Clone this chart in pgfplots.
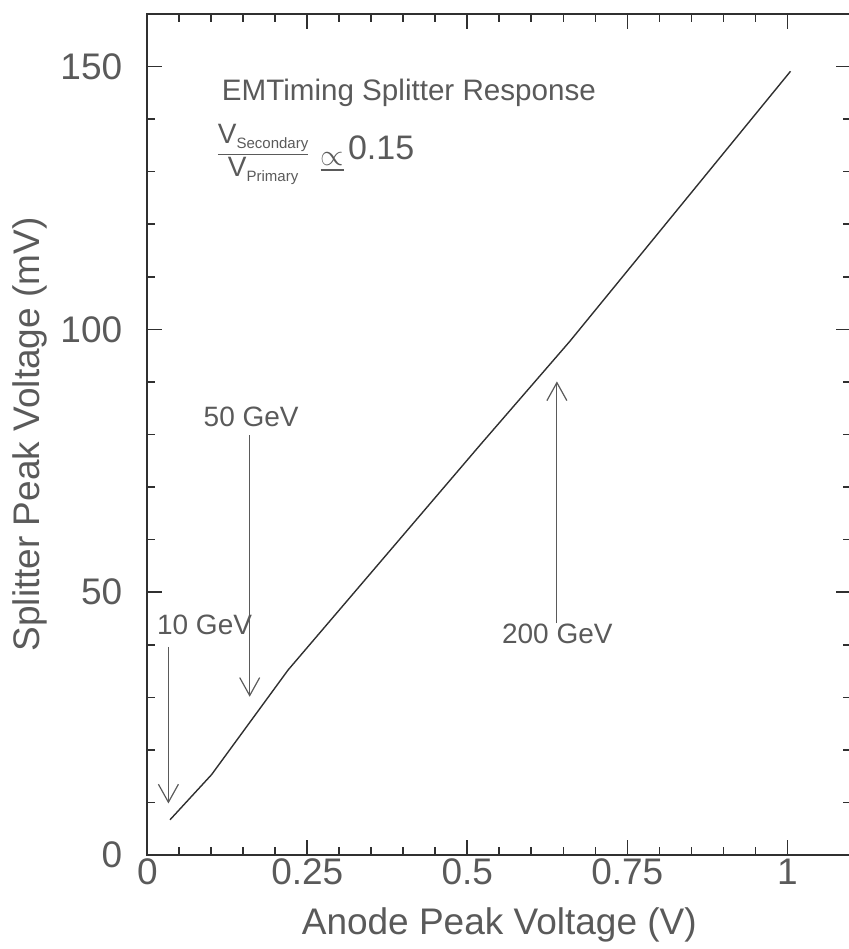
\documentclass[border=0pt]{standalone}
\usepackage{fontspec}
\setmainfont{Liberation Sans}
\usepackage{graphicx}
\usepackage{pgfplots}
\pgfplotsset{compat=1.18}
\usetikzlibrary{arrows.meta}
\definecolor{txt}{HTML}{5A5A5A}
\definecolor{ax}{HTML}{303030}
\begin{document}
\begin{tikzpicture}
\useasboundingbox (-73.65pt,-47pt) rectangle (350.85pt,427.5pt);
\begin{axis}[
 at={(0,0)}, anchor=south west,
 scale only axis, width=352pt, height=420.5pt,
 xmin=0, xmax=1.1, ymin=0, ymax=160,
 xtick={0,0.25,0.5,0.75,1}, ytick={0,50,100,150},
 minor x tick num=4, minor y tick num=4,
 major tick length=7.5pt, minor tick length=4pt,
 tick style={ax, line width=0.8pt},
 axis line style={ax, line width=1pt},
 /pgf/number format/assume math mode=true,
 ticklabel style={font=\fontsize{18.5}{20}\selectfont, text=txt},
 yticklabel style={xshift=-9pt},
 xticklabel style={yshift=1.5pt},
 xlabel={Anode Peak Voltage (V)},
 ylabel={Splitter Peak Voltage (mV)},
 label style={font=\fontsize{18.5}{20}\selectfont, text=txt},
 xlabel style={at={(axis description cs:0.5,-0.0832)}, anchor=center},
 ylabel style={at={(axis description cs:-0.1666,0.5)}, anchor=center},
 clip=false,
]
\addplot[ax, line width=0.7pt, mark=none] coordinates {
 (0.0355,6.7) (0.1005,15.3) (0.22,35.2) (0.52,78) (0.66,97.7) (1.005,149.1)
};
\node[anchor=west, inner sep=0, font=\fontsize{14.8}{16}\selectfont, text=txt] at (axis cs:0.116,145) {EMTiming Splitter Response};
\node[anchor=west, inner sep=0, text=txt] at (axis cs:0.106,133.2) {$\displaystyle\frac{\hbox{\fontsize{14}{16}\selectfont V\raisebox{-2.5pt}{\fontsize{7.5}{8}\selectfont Secondary}}}{\hbox{\fontsize{14}{16}\selectfont V\raisebox{-2.5pt}{\fontsize{7.5}{8}\selectfont Primary}}}\hspace{5pt}\raisebox{-3pt}{\scalebox{1.5}{$\underline{\propto}$}}\hspace{2pt}\hbox{\fontsize{17}{18}\selectfont 0.15}$};
\draw[txt, line width=0.6pt, -{Straight Barb[length=9pt, width=10pt]}] (axis cs:0.033,39.6) -- (axis cs:0.033,9.8);
\draw[txt, line width=0.6pt, -{Straight Barb[length=9pt, width=10pt]}] (axis cs:0.160,79.9) -- (axis cs:0.160,30.1);
\draw[txt, line width=0.6pt, -{Straight Barb[length=9pt, width=10pt]}] (axis cs:0.640,44.1) -- (axis cs:0.640,90.1);
\node[anchor=west, inner sep=0, font=\fontsize{14}{16}\selectfont, text=txt] at (axis cs:0.0147,43.8) {10 GeV};
\node[anchor=west, inner sep=0, font=\fontsize{14}{16}\selectfont, text=txt] at (axis cs:0.0875,83.4) {50 GeV};
\node[anchor=west, inner sep=0, font=\fontsize{14}{16}\selectfont, text=txt] at (axis cs:0.5537,42) {200 GeV};
\end{axis}
\end{tikzpicture}
\end{document}
